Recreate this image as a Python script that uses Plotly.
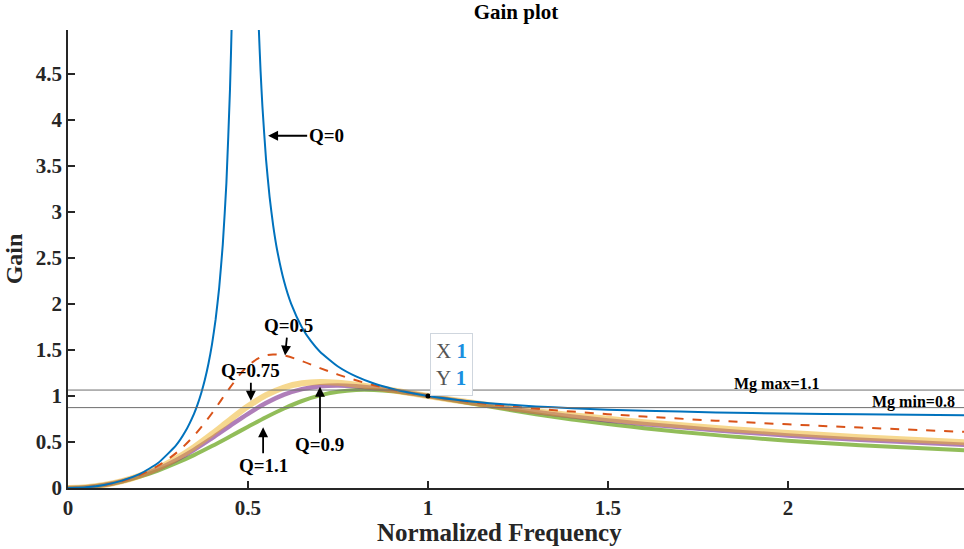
import plotly.graph_objects as go

# ---------------- data ----------------
# Q = 0 (blue), two branches around the resonance
q0_x = [0, 0.05, 0.1, 0.15, 0.2, 0.25, 0.3, 0.325, 0.35, 0.36, 0.37, 0.38, 0.39, 0.4, 0.41, 0.42, 0.43,
        0.44, 0.45, 0.455, 0.46, 0.47,
        None,
        0.51, 0.52, 0.53, 0.535, 0.54, 0.55, 0.56, 0.57, 0.58, 0.6, 0.62, 0.65, 0.675, 0.7, 0.75, 0.8,
        0.85, 0.9, 0.95, 1.0, 1.1, 1.2, 1.3, 1.4, 1.5, 1.6, 1.8, 2.0, 2.2, 2.5]
q0_y = [0, 0.008, 0.033, 0.080, 0.154, 0.271, 0.463, 0.608, 0.807, 0.910, 1.031, 1.174, 1.348, 1.561,
        1.83, 2.179, 2.649, 3.315, 4.334, 5.08, 6.08, 9.79,
        None,
        9.01, 6.38, 5.0, 4.53, 4.153, 3.579, 3.165, 2.852, 2.607, 2.25, 2.002, 1.746, 1.596, 1.482,
        1.321, 1.213, 1.136, 1.079, 1.035, 1.0, 0.949, 0.913, 0.887, 0.867, 0.852, 0.840, 0.822,
        0.810, 0.801, 0.792]

freq = [0, 0.05, 0.1, 0.15, 0.2, 0.25, 0.3, 0.35, 0.4, 0.45, 0.5, 0.55, 0.6, 0.65, 0.7, 0.75,
        0.8, 0.85, 0.9, 0.95, 1.0, 1.1, 1.2, 1.3, 1.4, 1.5, 1.6, 1.8, 2.0, 2.2, 2.5]

q05_y = [0, 0.008, 0.033, 0.077, 0.144, 0.242, 0.379, 0.568, 0.813, 1.092, 1.329, 1.443, 1.440, 1.380,
         1.304, 1.233, 1.171, 1.117, 1.072, 1.034, 1.0, 0.945, 0.900, 0.863, 0.831, 0.803, 0.777,
         0.732, 0.692, 0.657, 0.609]
q075_y = [0, 0.008, 0.032, 0.074, 0.135, 0.216, 0.319, 0.444, 0.588, 0.741, 0.888, 1.009, 1.093, 1.138,
          1.152, 1.144, 1.123, 1.095, 1.064, 1.032, 1.0, 0.940, 0.885, 0.836, 0.792, 0.752, 0.716,
          0.652, 0.599, 0.553, 0.495]
q09_y = [0, 0.008, 0.032, 0.073, 0.131, 0.208, 0.303, 0.415, 0.542, 0.676, 0.807, 0.924, 1.015, 1.075,
         1.107, 1.115, 1.106, 1.087, 1.061, 1.031, 1.0, 0.938, 0.880, 0.827, 0.779, 0.735, 0.696,
         0.629, 0.572, 0.525, 0.467]
q11_y = [0, 0.008, 0.032, 0.071, 0.124, 0.190, 0.269, 0.358, 0.456, 0.560, 0.666, 0.770, 0.865, 0.946,
         1.007, 1.046, 1.065, 1.065, 1.052, 1.029, 1.0, 0.933, 0.866, 0.802, 0.745, 0.695, 0.650,
         0.575, 0.515, 0.466, 0.408]

mg_levels = [1.065, 0.874]
mg_labels = ["Mg max=1.1", "Mg min=0.8"]
mg_label_x = [1.97, 2.35]

tip_x = [1]
tip_y = [1]

x_ticks = [0, 0.5, 1, 1.5, 2]
y_ticks = [0, 0.5, 1, 1.5, 2, 2.5, 3, 3.5, 4, 4.5]

# (label, tip x, tip y, ax, ay)
q_labels = [
    ("Q=0", 0.556, 3.83, 58, 0),
    ("Q=0.5", 0.603, 1.44, 3, -30),
    ("Q=0.75", 0.508, 0.95, 0, -30),
    ("Q=0.9", 0.700, 1.10, 0, 58),
    ("Q=1.1", 0.542, 0.66, 0, 38),
]

SERIF = "Liberation Serif, Times New Roman, serif"
INK = "#262626"

fig = go.Figure()

fig.add_trace(go.Scatter(x=freq, y=q11_y, mode="lines", line=dict(color="rgba(119,172,48,0.8)", width=4, shape="spline"),
                         showlegend=False, hoverinfo="skip"))
fig.add_trace(go.Scatter(x=freq, y=q09_y, mode="lines", line=dict(color="rgba(126,47,142,0.62)", width=4.5, shape="spline"),
                         showlegend=False, hoverinfo="skip"))
fig.add_trace(go.Scatter(x=freq, y=q075_y, mode="lines", line=dict(color="rgba(237,177,32,0.5)", width=6, shape="spline"),
                         showlegend=False, hoverinfo="skip"))
fig.add_trace(go.Scatter(x=freq, y=q05_y, mode="lines", line=dict(color="#D95319", width=2, dash="dash", shape="spline"),
                         showlegend=False, hoverinfo="skip"))
fig.add_trace(go.Scatter(x=q0_x, y=q0_y, mode="lines", line=dict(color="#0072BD", width=2, shape="spline", smoothing=0.5),
                         showlegend=False, hoverinfo="skip", connectgaps=False))
fig.add_trace(go.Scatter(x=tip_x, y=tip_y, mode="markers", marker=dict(color="black", size=5),
                         showlegend=False, hoverinfo="skip"))

for lvl in mg_levels:
    fig.add_shape(type="line", xref="paper", x0=0, x1=1, yref="y", y0=lvl, y1=lvl,
                  line=dict(color="#6e6e6e", width=1))

for lbl, lx, lvl in zip(mg_labels, mg_label_x, mg_levels):
    fig.add_annotation(x=lx, y=lvl, text=f"<b>{lbl}</b>", showarrow=False, yanchor="bottom", yshift=-5,
                       font=dict(family=SERIF, size=16, color="black"))

for lbl, tx, ty, ax, ay in q_labels:
    fig.add_annotation(x=tx, y=ty, text=f"<b>{lbl}</b>", showarrow=True, arrowhead=2, arrowsize=1.1,
                       arrowwidth=1.8, arrowcolor="black", ax=ax, ay=ay, standoff=0,
                       font=dict(family=SERIF, size=19, color="black"))

fig.add_annotation(x=tip_x[0], y=tip_y[0], xanchor="left", yanchor="bottom", xshift=2, yshift=0,
                   text="<span style='color:#555'>X</span> <b><span style='color:#1a8fe0'>1</span></b><br>"
                        "<span style='color:#555'>Y</span> <b><span style='color:#1a8fe0'>1</span></b>",
                   showarrow=False, align="left", bgcolor="rgba(255,255,255,0.95)", bordercolor="#cfd6de",
                   borderwidth=1, borderpad=5, font=dict(family=SERIF, size=21))

# x-axis title (placed as in the reference, slightly left of the axis centre)
fig.add_annotation(xref="paper", yref="paper", x=0.482, y=-0.098, xanchor="center", yanchor="middle",
                   text="<b>Normalized Frequency</b>", showarrow=False,
                   font=dict(family=SERIF, size=25, color=INK))

fig.update_layout(
    width=964, height=549,
    margin=dict(l=68, r=0, t=30, b=61),
    plot_bgcolor="white", paper_bgcolor="white",
    title=dict(text="<b>Gain plot</b>", x=0.5, xref="paper", xanchor="center", y=0.993, yanchor="top",
               font=dict(family=SERIF, size=21, color="black")),
    xaxis=dict(range=[0, 2.489], tickvals=x_ticks, ticktext=[f"<b>{v:g}</b>" for v in x_ticks],
               showgrid=False, zeroline=False, showline=True, linecolor=INK, linewidth=1.5,
               ticks="inside", ticklen=7, tickcolor=INK, tickwidth=1.5, automargin=False,
               tickfont=dict(family=SERIF, size=21, color=INK)),
    yaxis=dict(range=[0, 4.98], tickvals=y_ticks, ticktext=[f"<b>{v:g}</b>" for v in y_ticks],
               showgrid=False, zeroline=False, showline=True, linecolor=INK, linewidth=1.5,
               ticks="inside", ticklen=7, tickcolor=INK, tickwidth=1.5, automargin=False,
               tickfont=dict(family=SERIF, size=21, color=INK),
               title=dict(text="<b>Gain</b>", font=dict(family=SERIF, size=24, color=INK), standoff=6)),
)

fig.write_html("out.html", config={"displayModeBar": False},
               post_script="document.body.style.margin='0';document.body.style.overflow='hidden';")
